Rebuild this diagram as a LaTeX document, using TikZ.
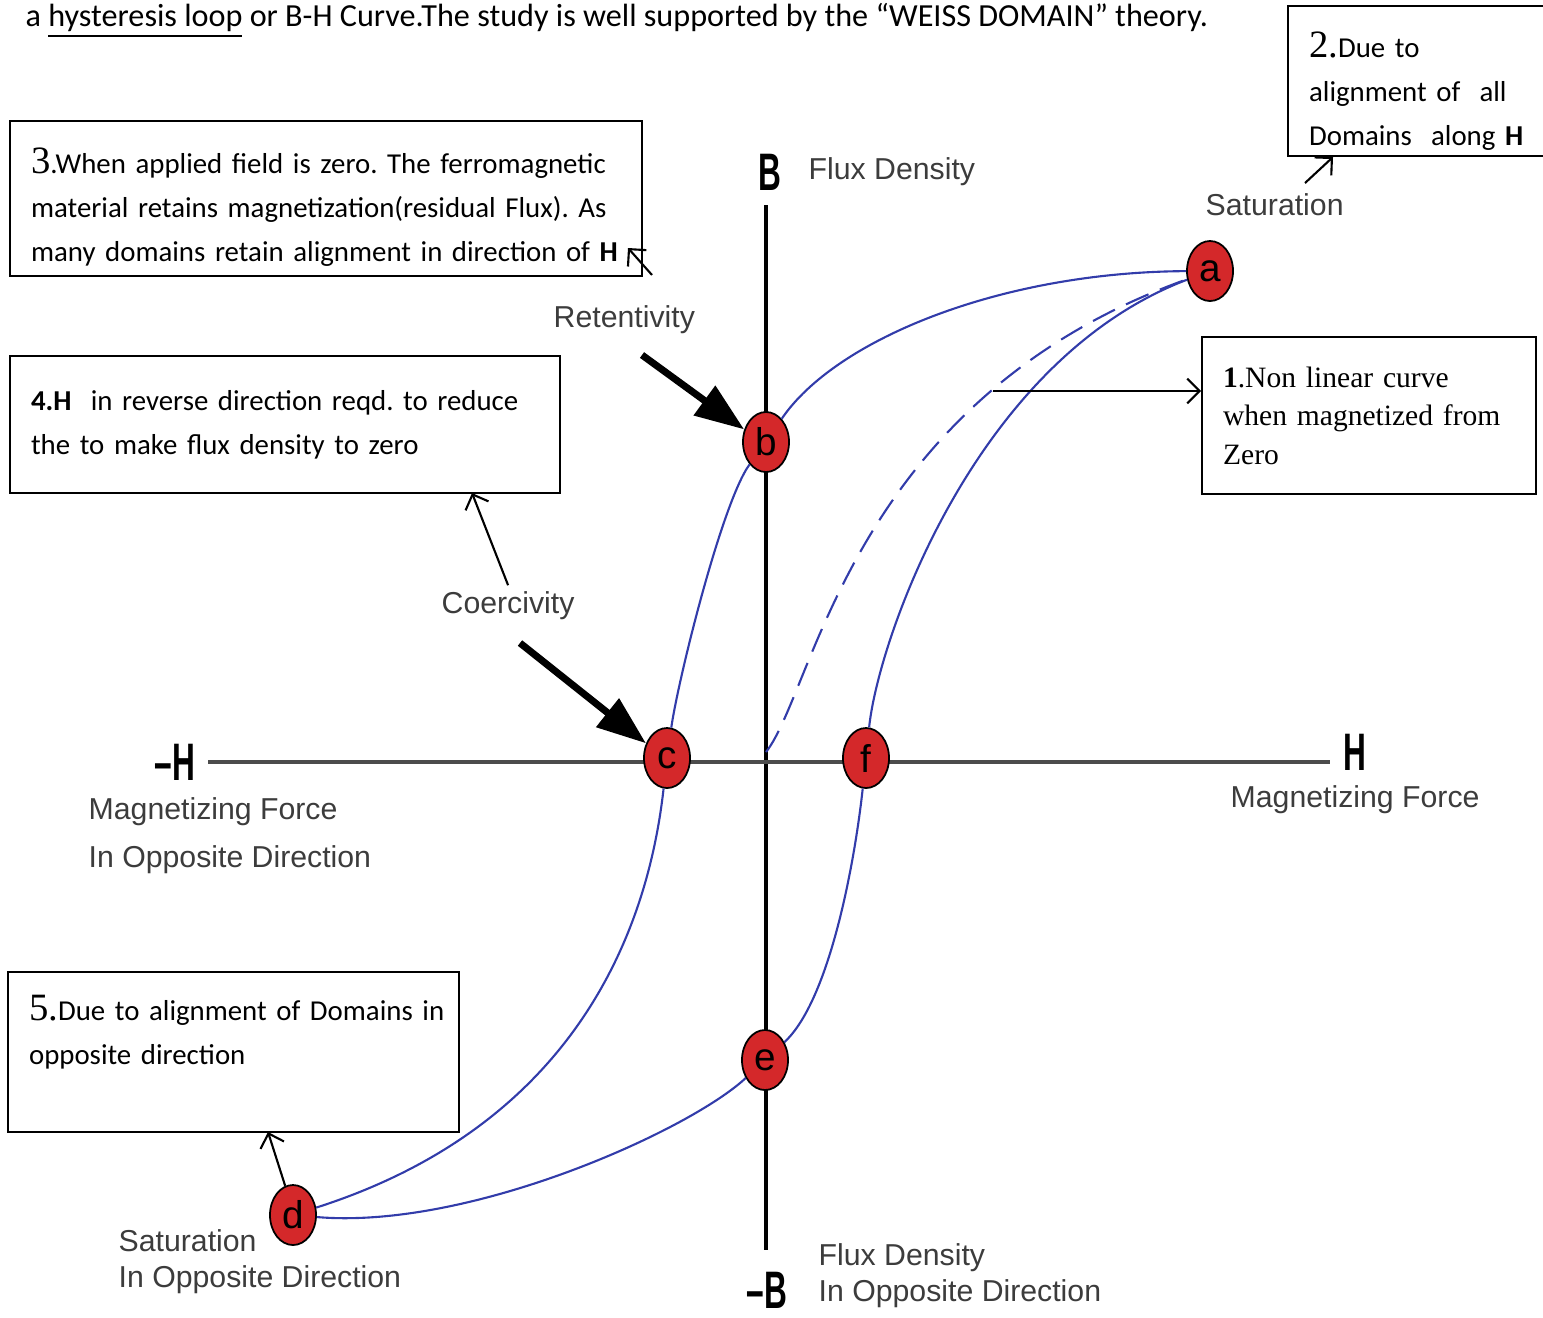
\documentclass[tikz,border=0pt]{standalone}
\usepackage{fontspec}
\setmainfont{Carlito}
\newfontfamily\plotfont{Liberation Sans}
\newfontfamily\axisfont[FakeStretch=0.6]{Liberation Sans}
\newfontfamily\notefont{Liberation Serif}
\usetikzlibrary{arrows.meta,shapes.geometric}
\definecolor{loopblue}{RGB}{50,60,170}
\definecolor{dotred}{RGB}{212,40,42}
\definecolor{plotgray}{RGB}{60,60,60}
\newcommand{\notenum}[1]{{\notefont\fontsize{11}{11}\selectfont #1}}
\tikzset{
  notebox/.style={draw,line width=.6pt,anchor=north west,align=left,inner xsep=.21cm,inner ysep=0pt,font=\frenchspacing\fontsize{8.2}{12.5}\selectfont},
  dot/.style={ellipse,draw=black,line width=.5pt,fill=dotred,minimum width=.46cm,minimum height=.6cm,inner sep=0pt,font=\plotfont\fontsize{11}{11}\selectfont},
  plotlabel/.style={text=plotgray,anchor=west,inner sep=0pt,align=left,font=\plotfont\fontsize{8.6}{10.3}\selectfont},
  axislabel/.style={inner sep=0pt,font=\axisfont\bfseries\fontsize{15}{15}\selectfont},
  loopline/.style={loopblue,line width=.6pt},
  pointer/.style={-{Straight Barb[length=3.5pt,width=7pt]},line width=.6pt},
  bigpointer/.style={-{Triangle[length=14pt,width=10pt]},line width=2pt},
}
\begin{document}
\frenchspacing
\begin{tikzpicture}[x=0.01cm,y=-0.01cm]
\useasboundingbox (0,0) rectangle (1543,1317);
\node[anchor=base west,inner sep=0pt,font=\fontsize{9.15}{10}\selectfont] (intro) at (25,26) {a \underline{hysteresis loop} or B-H Curve.The study is well supported by the “WEISS DOMAIN” theory.};

\node[notebox,text width=5.9cm,minimum height=1.55cm] (note3) at (9,120) {\rule{0pt}{12pt}\notenum{3}.When applied field is zero. The ferromagnetic\\material retains magnetization(residual Flux). As\\many domains retain alignment in direction of \textbf{H}};
\node[notebox,text width=5.08cm,minimum height=1.37cm] (note4) at (9,355) {\textbf{4.H}\ \ in reverse direction reqd. to reduce\\the to make flux density to zero};
\node[notebox,text width=2.92cm,minimum height=1.57cm,font=\notefont\fontsize{8.4}{11}\selectfont] (note1) at (1201,336) {\textbf{1}.Non linear curve\\when magnetized from\\Zero};
\node[notebox,text width=2.38cm,minimum height=1.5cm] (note2) at (1287,5) {\rule{0pt}{13pt}\notenum{2.}Due to\\alignment of\ \ all\\Domains\ \ along \textbf{H}};
\node[notebox,text width=4.09cm,minimum height=1.6cm] (note5) at (7,971) {\mbox{\notenum{5.}Due to alignment of Domains in}\\opposite direction\\\mbox{}};

\draw[line width=1pt] (766,205) -- (766,1250);
\draw[gray!60!black,line width=1.1pt] (208,762) -- (1330,762);
\node[axislabel] (Bp) at (770,172) {B};
\node[axislabel] (Bm) at (767,1290) {–B};
\node[axislabel] (Hp) at (1355,752) {H};
\node[axislabel] (Hm) at (175,762) {–H};

\node[plotlabel] (fluxtop) at (808,172) {Flux Density};
\node[plotlabel] (sattop) at (1205,205) {Saturation};
\node[plotlabel] (retent) at (553,320) {Retentivity};
\node[plotlabel] (coerc) at (441,606) {Coercivity};
\node[plotlabel] (magright) at (1230,800) {Magnetizing Force};
\node[plotlabel,font=\plotfont\fontsize{8.6}{13.7}\selectfont] (magleft) at (88,836) {Magnetizing Force\\In Opposite Direction};
\node[plotlabel] (satbot) at (118,1262) {Saturation\\In Opposite Direction};
\node[plotlabel] (fluxbot) at (818,1276) {Flux Density\\In Opposite Direction};

\node[dot] (a) at (1210,271) {a};
\node[dot] (b) at (766,442) {b};
\node[dot] (c) at (667,758) {c};
\node[dot] (f) at (866,758) {f};
\node[dot] (e) at (765,1060) {e};
\node[dot] (d) at (293,1215) {d};
\coordinate (o) at (766,752);

\draw[loopline] (a) .. controls (1000,272) and (835,340) .. (b) .. controls (722,502) and (678,680) .. (c) .. controls (650,910) and (590,1120) .. (d);
\draw[loopline] (d) .. controls (470,1230) and (690,1130) .. (e) .. controls (830,1000) and (855,860) .. (f) .. controls (878,640) and (975,360) .. (a);
\draw[loopline,dash pattern=on 7pt off 3.5pt] (o) .. controls (815,690) and (850,400) .. (a);

\coordinate (tail1) at (993,391);
\coordinate (tail2) at (1305,183);
\coordinate (head2) at (1333,157);
\coordinate (tail3) at (652,275);
\coordinate (head3) at (628,248);
\coordinate (head4) at (472,493);
\coordinate (head5) at (268,1132);
\draw[pointer] (tail1) -- (tail1 -| note1.west);
\draw[pointer] (tail2) -- (head2);
\draw[pointer] (tail3) -- (head3);
\draw[pointer] (coerc.north) ++(0,-6) -- (head4);
\draw[pointer] (d.105) -- (head5);

\coordinate (rtail) at (642,355);
\coordinate (ctail) at (520,643);
\draw[bigpointer] (rtail) -- (b.150);
\draw[bigpointer] (ctail) -- (c.145);
\end{tikzpicture}
\end{document}
